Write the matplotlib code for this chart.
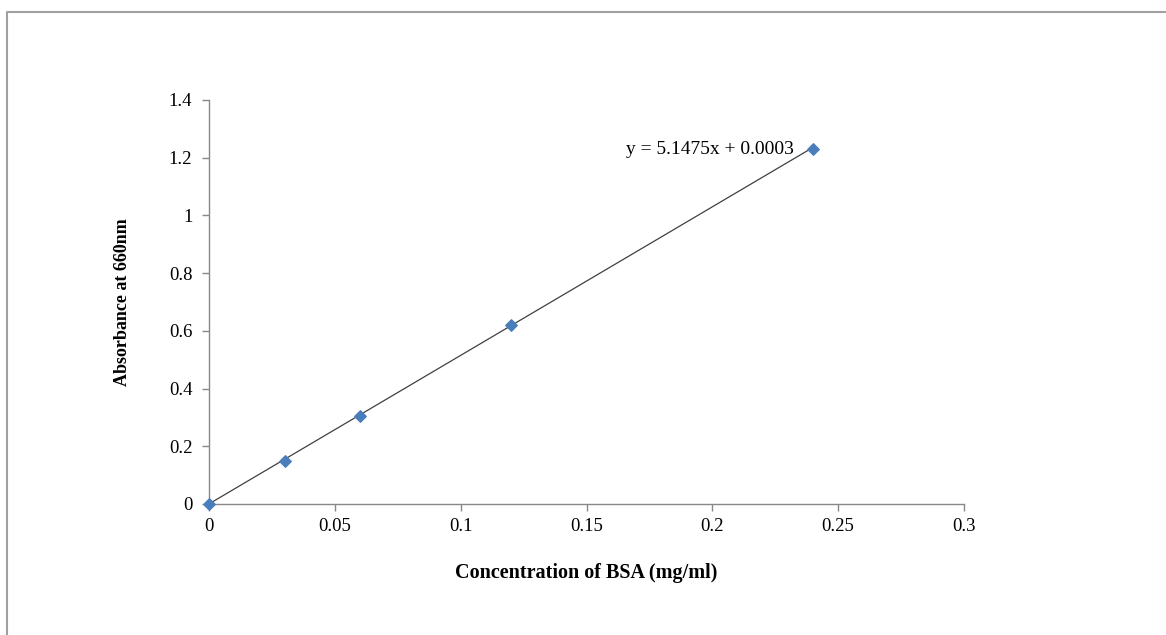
import matplotlib
matplotlib.use("Agg")
import matplotlib.pyplot as plt
from matplotlib.lines import Line2D
import numpy as np

conc = [0.0, 0.03, 0.06, 0.12, 0.24]
absorb = [0.0, 0.15, 0.305, 0.62, 1.23]
slope = 5.1475
intercept = 0.0003
x_ticks = [0, 0.05, 0.1, 0.15, 0.2, 0.25, 0.3]
x_ticklabels = ["0", "0.05", "0.1", "0.15", "0.2", "0.25", "0.3"]
y_ticks = [0, 0.2, 0.4, 0.6, 0.8, 1.0, 1.2, 1.4]
y_ticklabels = ["0", "0.2", "0.4", "0.6", "0.8", "1", "1.2", "1.4"]

plt.rcParams['font.family'] = ['Liberation Serif', 'DejaVu Serif']

fig = plt.figure(figsize=(11.66, 6.35), dpi=100)
ax = fig.add_axes([209/1166, 1 - 504/635, (964-209)/1166, (504-100)/635])

xs = np.array([min(conc), max(conc)])
ax.plot(xs, slope * xs + intercept, color='#404040', lw=0.9, zorder=2)
ax.scatter(conc, absorb, marker='D', s=34, color='#4a7ebb', zorder=3, clip_on=False)

ax.set_xlim(0, 0.3)
ax.set_ylim(0, 1.4)
ax.set_xticks(x_ticks)
ax.set_xticklabels(x_ticklabels)
ax.set_yticks(y_ticks)
ax.set_yticklabels(y_ticklabels)
ax.tick_params(axis='both', labelsize=13.5, color='#888888', length=5, width=1, direction='out')
ax.tick_params(axis='x', pad=5)
ax.tick_params(axis='y', pad=7)
for s in ['top', 'right']:
    ax.spines[s].set_visible(False)
for s in ['left', 'bottom']:
    ax.spines[s].set_color('#888888')
    ax.spines[s].set_linewidth(1)

ax.set_xlabel('Concentration of BSA (mg/ml)', fontsize=14.5, fontweight='bold', labelpad=20)
ax.set_ylabel('Absorbance at 660nm', fontsize=13, fontweight='bold', labelpad=27)

ax.annotate('y = 5.1475x + 0.0003', xy=(0.24, 1.23), xytext=(-14, 0), textcoords='offset points',
            ha='right', va='center', fontsize=14)

# outer border (left and top)
fig.add_artist(Line2D([7/1166, 7/1166, 1.0], [0.0, 1 - 12/635, 1 - 12/635],
                      transform=fig.transFigure, color='#a0a0a0', lw=1.5))

fig.savefig('out.png', dpi=100, facecolor='white')
